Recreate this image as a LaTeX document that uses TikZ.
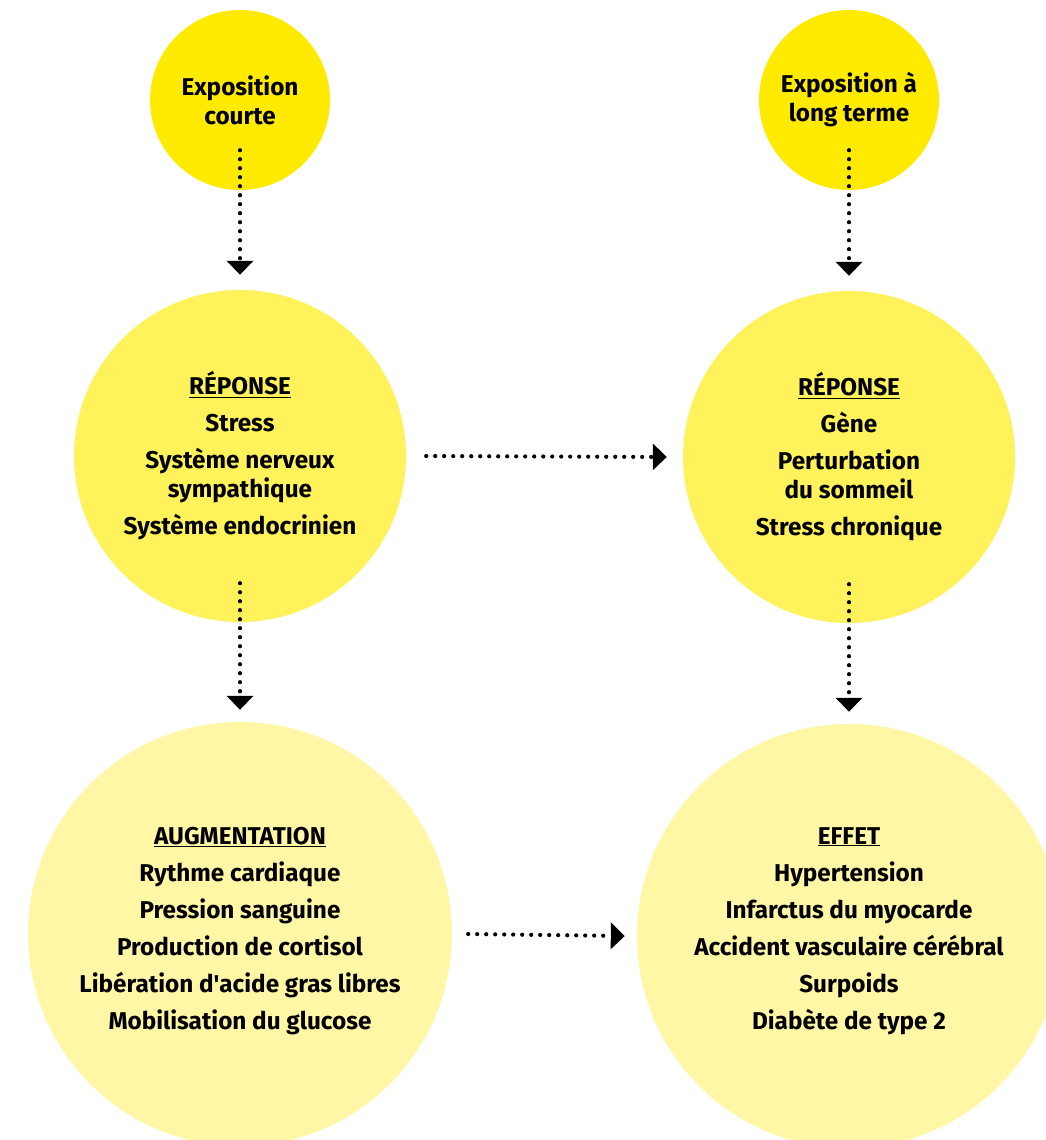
\documentclass[tikz,border=0pt]{standalone}
\usepackage{fontspec}
\setmainfont{Fira Sans}
\usetikzlibrary{arrows.meta}
\definecolor{jauneFort}{RGB}{255,234,0}
\definecolor{jaune}{RGB}{255,242,90}
\definecolor{jaunePale}{RGB}{255,247,166}
\newcommand{\saut}{\\[8pt]}
\begin{document}
\begin{tikzpicture}[x=1pt,y=-1pt,line join=round,
	rond/.style={circle,inner sep=0pt,align=center,font=\bfseries\fontsize{24.3}{29}\selectfont},
	fleche/.style={line width=4.2pt,line cap=round,dash pattern=on 0pt off 9pt,-{Triangle[width=26pt,length=14pt]}}]
	\def\xg{240} % colonne gauche
	\def\xd{849} % colonne droite
	\useasboundingbox (0,0) rectangle (1045,1140);
	\clip (0,0) rectangle (1045,1140);
	% les cercles du haut
	\node[rond,fill=jauneFort,minimum size=180pt] (expA) at (\xg,100) {Exposition\\courte};
	\node[rond,fill=jauneFort,minimum size=180pt] (expB) at (\xd,100) {Exposition à\\long terme};
	% les cercles du milieu
	\node[rond,fill=jaune,minimum size=332pt] (repA) at (\xg,456) {\underline{RÉPONSE}\saut Stress\saut Système nerveux\\sympathique\saut Système endocrinien};
	\node[rond,fill=jaune,minimum size=332pt] (repB) at (\xd,457) {\underline{RÉPONSE}\saut Gène\saut Perturbation\\du sommeil\saut Stress chronique};
	% les cercles du bas
	\node[rond,fill=jaunePale,minimum size=424pt] (aug) at (\xg,934) {};
	\node[rond,fill=jaunePale,minimum size=424pt] (eff) at (\xd,936) {};
	\node[rond] (augT) at (\xg,931) {\underline{AUGMENTATION}\saut Rythme cardiaque\saut Pression sanguine\saut Production de cortisol\saut Libération d\textquotesingle acide gras libres\saut Mobilisation du glucose};
	\node[rond] (effT) at (\xd,931) {\underline{EFFET}\saut Hypertension\saut Infarctus du myocarde\saut Accident vasculaire cérébral\saut Surpoids\saut Diabète de type 2};
	% les fleches
	\draw[fleche] ([yshift=40pt]expA.south) -- ([yshift=15pt]repA.north);
	\draw[fleche] ([yshift=40pt]expB.south) -- ([yshift=15pt]repB.north);
	\draw[fleche] ([yshift=39pt]repA.south) -- ([yshift=12pt]aug.north);
	\draw[fleche] ([yshift=39pt]repB.south) -- ([yshift=12pt]eff.north);
	\draw[fleche] ([xshift=20pt]repA.east) -- ([xshift=-16pt]repB.west);
	\draw[fleche] ([xshift=16pt]aug.east) -- ([xshift=-12pt]eff.west);
\end{tikzpicture}
\end{document}
